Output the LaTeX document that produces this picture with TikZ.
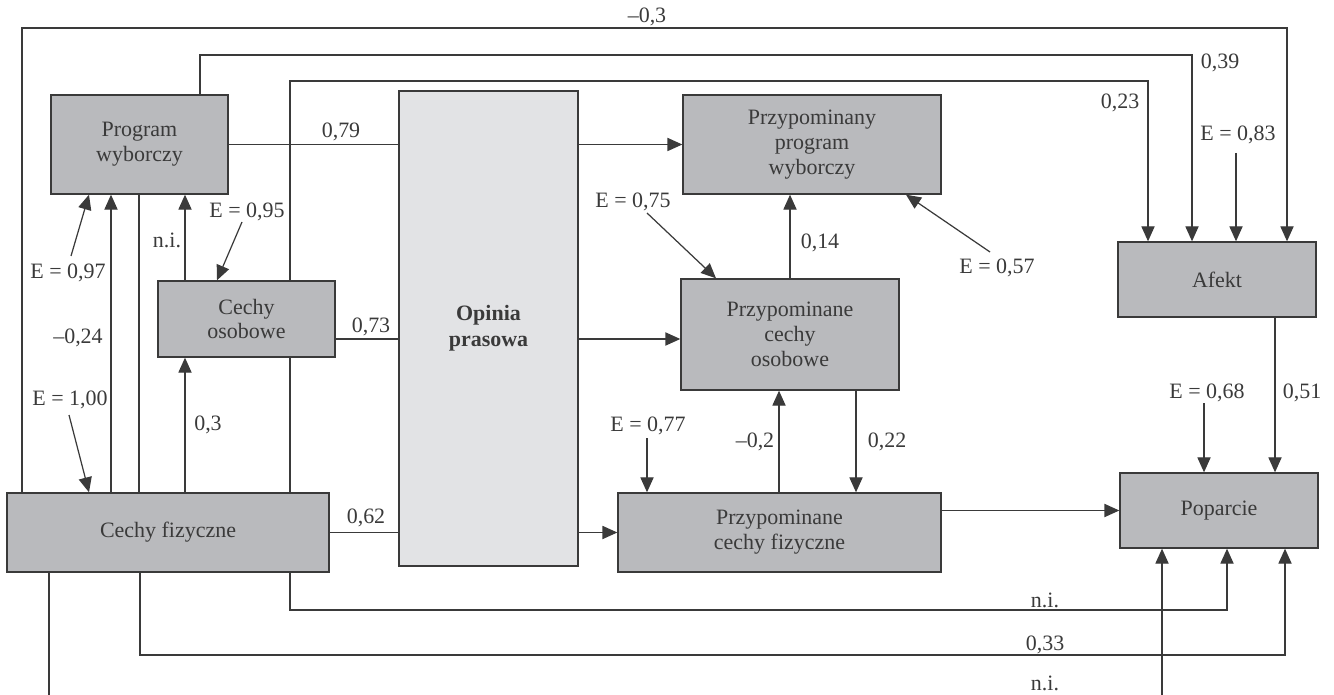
\documentclass[tikz,border=0pt]{standalone}
\usepackage{fontspec}
\setmainfont{Liberation Serif}
\usetikzlibrary{arrows.meta}
\definecolor{boxgray}{HTML}{B9BABD}
\definecolor{pressgray}{HTML}{E2E3E5}
\definecolor{ink}{HTML}{3A3A3A}

\begin{document}
\begin{tikzpicture}[x=0.02cm, y=-0.02cm,
    every node/.style={font=\fontsize{12.5}{14.2}\selectfont, text=ink},
    var/.style={draw=ink, fill=boxgray, line width=0.8pt, inner sep=2pt, align=center},
    press/.style={draw=ink, fill=pressgray, line width=0.8pt, align=center,
      font=\fontsize{12.5}{14.6}\selectfont\bfseries},
    wire/.style={draw=ink, line width=0.7pt},
    arr/.style={wire, -{Triangle[length=8.5pt,width=7.5pt]}},
    lbl/.style={inner sep=0pt}
  ]
  \useasboundingbox (0,0) rectangle (1334,695);

  % variables
  \node[var, minimum width=3.54cm, minimum height=1.98cm] (pw) at (139.5,144.5) {Program\\wyborczy};
  \node[var, minimum width=3.54cm, minimum height=1.52cm] (co) at (246.5,319) {Cechy\\osobowe};
  \node[var, minimum width=6.44cm, minimum height=1.58cm] (cf) at (168,532.5) {Cechy fizyczne};
  \node[press, minimum width=3.58cm, minimum height=9.5cm] (op) at (488.5,328.5) {Opinia\\prasowa};
  \node[var, minimum width=5.16cm, minimum height=1.98cm] (ppw) at (812,144.5) {Przypominany\\program\\wyborczy};
  \node[var, minimum width=4.36cm, minimum height=2.22cm] (pco) at (790,334.5) {Przypominane\\cechy\\osobowe};
  \node[var, minimum width=6.46cm, minimum height=1.58cm] (pcf) at (779.5,532.5) {Przypominane\\cechy fizyczne};
  \node[var, minimum width=3.96cm, minimum height=1.5cm] (af) at (1217,279.5) {Afekt};
  \node[var, minimum width=3.96cm, minimum height=1.5cm] (pop) at (1219,510.5) {Poparcie};

  % long paths to Afekt
  \draw[arr] (cf.north -| 22,0) |- (1287,28) -- (af.north -| 1287,0);
  \draw[arr] (pw.north -| 200,0) |- (1192,55) -- (af.north -| 1192,0);
  \draw[wire] (cf.north -| 290,0) -- (co.south -| 290,0);
  \draw[arr] (co.north -| 290,0) |- (1148,81) -- (af.north -| 1148,0);
  \node[lbl] (l03) at (647,17) {\textendash0,3};
  \node[lbl] (l039) at (1220,63) {0,39};
  \node[lbl] (l023) at (1120,103) {0,23};

  % into Opinia prasowa and out of it
  \draw[wire] (pw.east) -- (op.west |- pw.east);
  \draw[wire] (co.east |- 0,339) -- (op.west |- 0,339);
  \draw[wire] (cf.east) -- (op.west |- cf.east);
  \draw[arr] (op.east |- ppw.west) -- (ppw.west);
  \draw[arr] (op.east |- 0,339) -- (pco.west |- 0,339);
  \draw[arr] (op.east |- pcf.west) -- (pcf.west);
  \node[lbl] (l079) at (341,132) {0,79};
  \node[lbl] (l073) at (371,327) {0,73};
  \node[lbl] (l062) at (366,518) {0,62};

  % left column
  \draw[arr] (cf.north -| 111,0) -- (pw.south -| 111,0);
  \draw[wire] (cf.north -| 139,0) -- (pw.south -| 139,0);
  \draw[arr] (co.north -| 185,0) -- (pw.south -| 185,0);
  \draw[arr] (cf.north -| 185,0) -- (co.south -| 185,0);
  \node[lbl] (l024) at (78,338) {\textendash0,24};
  \node[lbl] (lni1) at (167,240) {n.i.};
  \node[lbl] (l03b) at (208,425) {0,3};

  % right column
  \draw[arr] (pco.north) -- (ppw.south -| pco.north);
  \draw[arr] (pcf.north -| 779,0) -- (pco.south -| 779,0);
  \draw[arr] (pco.south -| 856,0) -- (pcf.north -| 856,0);
  \draw[arr] (pcf.east |- pop.west) -- (pop.west);
  \draw[arr] (af.south -| 1275,0) -- (pop.north -| 1275,0);
  \node[lbl] (l014) at (820,243) {0,14};
  \node[lbl] (l02) at (755,442) {\textendash0,2};
  \node[lbl] (l022) at (887,442) {0,22};
  \node[lbl] (l051) at (1302,393) {0,51};

  % bottom paths to Poparcie
  \draw[arr] (cf.south -| 290,0) |- (1227,610) -- (pop.south -| 1227,0);
  \draw[arr] (cf.south -| 140,0) |- (1285,655) -- (pop.south -| 1285,0);
  \draw[arr] (cf.south -| 49,0) |- (1162,702) -- (pop.south -| 1162,0);
  \node[lbl] (lni2) at (1045,600) {n.i.};
  \node[lbl] (l033) at (1045,645) {0,33};
  \node[lbl] (lni3) at (1045,683) {n.i.};

  % residuals
  \node[lbl] (e97) at (68,273) {E = 0,97};
  \node[lbl] (e100) at (70,400) {E = 1,00};
  \node[lbl] (e95) at (247,212) {E = 0,95};
  \node[lbl] (e75) at (633,202) {E = 0,75};
  \node[lbl] (e57) at (997,268) {E = 0,57};
  \node[lbl] (e77) at (648,426) {E = 0,77};
  \node[lbl] (e83) at (1238,135) {E = 0,83};
  \node[lbl] (e68) at (1207,393) {E = 0,68};
  \coordinate (e97s) at (71,256);
  \coordinate (e100s) at (69,415);
  \coordinate (e95s) at (242,222);
  \coordinate (e75s) at (647,213);
  \coordinate (e57s) at (990,252);
  \coordinate (e77s) at (647,438);
  \coordinate (e83s) at (1236,153);
  \coordinate (e68s) at (1204,403);
  \draw[arr] (e97s) -- (pw.south -| 89,0);
  \draw[arr] (e100s) -- (cf.north -| 89,0);
  \draw[arr] (e95s) -- (co.north -| 217,0);
  \draw[arr] (e75s) -- (pco.north -| 716,0);
  \draw[arr] (e57s) -- (ppw.south -| 906,0);
  \draw[arr] (e77s) -- (pcf.north -| 647,0);
  \draw[arr] (e83s) -- (af.north -| 1236,0);
  \draw[arr] (e68s) -- (pop.north -| 1204,0);
\end{tikzpicture}
\end{document}
